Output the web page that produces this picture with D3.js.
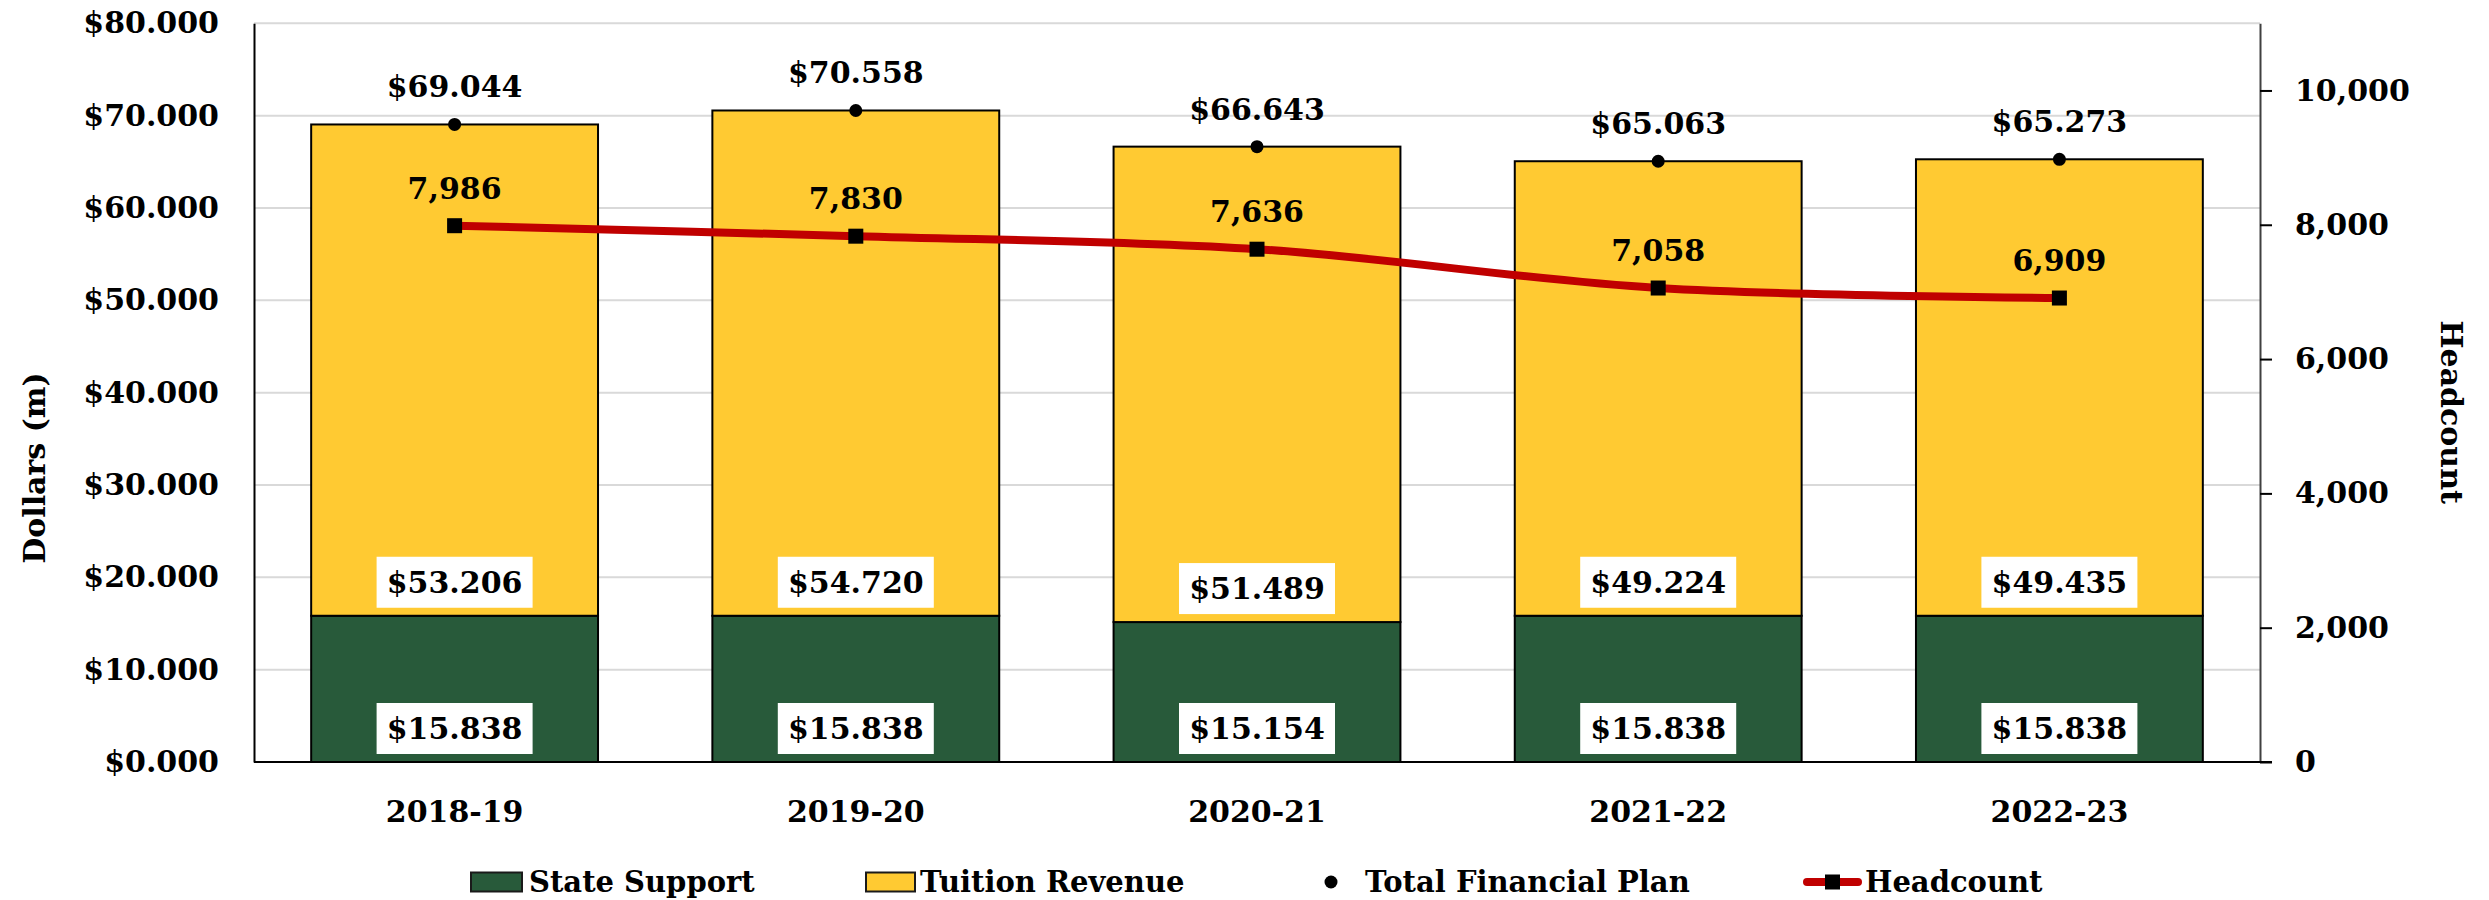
<!doctype html>
<html>
<head>
<meta charset="utf-8">
<script src="https://cdn.jsdelivr.net/npm/d3@7"></script>
<style>
  body { margin: 0; background: #fff; }
  text { font-family: "DejaVu Serif", serif; font-weight: bold; fill: #000; }
</style>
</head>
<body>
<div id="chart"></div>
<script>
// chart data
var years = ["2018-19", "2019-20", "2020-21", "2021-22", "2022-23"];
var stateSupport = [15.838, 15.838, 15.154, 15.838, 15.838];
var tuitionRevenue = [53.206, 54.720, 51.489, 49.224, 49.435];
var totalPlan = [69.044, 70.558, 66.643, 65.063, 65.273];
var headcount = [7986, 7830, 7636, 7058, 6909];
var dollarTicks = [0, 10, 20, 30, 40, 50, 60, 70, 80];
var headTicks = [0, 2000, 4000, 6000, 8000, 10000];
var legendNames = ["State Support", "Tuition Revenue", "Total Financial Plan", "Headcount"];

var W = 2489, H = 900;
var plotLeft = 254, plotRight = 2260, plotTop = 23.3, plotBase = 762;
var green = "#285A3A", yellow = "#FFCA32", red = "#C00000";

var svg = d3.select("#chart").append("svg")
  .attr("width", W).attr("height", H);

var x = d3.scaleBand().domain(years).range([plotLeft, plotRight])
  .paddingInner(0.285).paddingOuter(0.1425);
var yL = d3.scaleLinear().domain([0, 80]).range([plotBase, plotTop]);
var yR = d3.scaleLinear().domain([0, 11000]).range([plotBase, plotTop]);

// gridlines
svg.append("g").selectAll("line")
  .data(dollarTicks.filter(function(d){ return d > 0; }))
  .enter().append("line")
  .attr("x1", plotLeft).attr("x2", plotRight)
  .attr("y1", function(d){ return yL(d); })
  .attr("y2", function(d){ return yL(d); })
  .attr("stroke", "#D9D9D9").attr("stroke-width", 2);

// bars
var bars = svg.append("g");
years.forEach(function(yr, i){
  var s = stateSupport[i], t = tuitionRevenue[i];
  bars.append("rect")
    .attr("x", x(yr)).attr("width", x.bandwidth())
    .attr("y", yL(s)).attr("height", yL(0) - yL(s))
    .attr("fill", green).attr("stroke", "#000").attr("stroke-width", 2);
  bars.append("rect")
    .attr("x", x(yr)).attr("width", x.bandwidth())
    .attr("y", yL(s + t)).attr("height", yL(s) - yL(s + t))
    .attr("fill", yellow).attr("stroke", "#000").attr("stroke-width", 2);
});

// left axis
var axL = svg.append("g").attr("transform", "translate(" + plotLeft + ",0)")
  .call(d3.axisLeft(yL).tickValues(dollarTicks).tickSize(0).tickSizeOuter(0).tickPadding(35)
    .tickFormat(function(d){ return "$" + d3.format(".3f")(d); }));
axL.attr("font-family", null).attr("font-size", null);
axL.select(".domain").attr("stroke", "#000").attr("stroke-width", 2);
axL.selectAll("text").style("font-size", "30px");

// right axis
var axR = svg.append("g").attr("transform", "translate(" + plotRight + ",0)")
  .call(d3.axisRight(yR).tickValues(headTicks).tickSize(12).tickSizeOuter(0).tickPadding(23)
    .tickFormat(d3.format(",")));
axR.attr("font-family", null).attr("font-size", null);
axR.select(".domain").attr("stroke", "#404040").attr("stroke-width", 2);
axR.selectAll(".tick line").attr("stroke", "#000").attr("stroke-width", 2);
axR.selectAll("text").style("font-size", "30px");

// bottom axis
svg.append("line").attr("x1", plotLeft).attr("x2", plotRight + 12)
  .attr("y1", plotBase).attr("y2", plotBase).attr("stroke", "#000").attr("stroke-width", 2);
var axB = svg.append("g").attr("transform", "translate(0," + plotBase + ")")
  .call(d3.axisBottom(x).tickSize(0).tickPadding(39));
axB.attr("font-family", null).attr("font-size", null);
axB.select(".domain").remove();
axB.selectAll("text").style("font-size", "30px");

// base labels in white boxes
function boxLabel(cx, bottom, val){
  var g = svg.append("g");
  g.append("rect").attr("x", cx - 78).attr("y", bottom - 8 - 51)
    .attr("width", 156).attr("height", 51).attr("fill", "#fff");
  g.append("text").attr("x", cx).attr("y", bottom - 8 - 25.5)
    .attr("text-anchor", "middle").attr("dominant-baseline", "central")
    .style("font-size", "30px").text("$" + d3.format(".3f")(val));
}
years.forEach(function(yr, i){
  var cx = x(yr) + x.bandwidth() / 2;
  boxLabel(cx, yL(0), stateSupport[i]);
  boxLabel(cx, yL(stateSupport[i]), tuitionRevenue[i]);
});

// total financial plan dots + labels
var cxs = years.map(function(yr){ return x(yr) + x.bandwidth() / 2; });
svg.append("g").selectAll("circle").data(totalPlan).enter().append("circle")
  .attr("cx", function(d, i){ return cxs[i]; })
  .attr("cy", function(d){ return yL(d); })
  .attr("r", 6.5).attr("fill", "#000");
svg.append("g").selectAll("text").data(totalPlan).enter().append("text")
  .attr("x", function(d, i){ return cxs[i]; })
  .attr("y", function(d){ return yL(d) - 27; })
  .attr("text-anchor", "middle").style("font-size", "30px")
  .text(function(d){ return "$" + d3.format(".3f")(d); });

// headcount line
var line = d3.line()
  .x(function(d, i){ return cxs[i]; })
  .y(function(d){ return yR(d); })
  .curve(d3.curveCatmullRom.alpha(0.5));
svg.append("path").datum(headcount).attr("d", line)
  .attr("fill", "none").attr("stroke", red).attr("stroke-width", 8)
  .attr("stroke-linecap", "round");
svg.append("g").selectAll("rect").data(headcount).enter().append("rect")
  .attr("x", function(d, i){ return cxs[i] - 7.5; })
  .attr("y", function(d){ return yR(d) - 7.5; })
  .attr("width", 15).attr("height", 15).attr("fill", "#000");
svg.append("g").selectAll("text").data(headcount).enter().append("text")
  .attr("x", function(d, i){ return cxs[i]; })
  .attr("y", function(d){ return yR(d) - 27; })
  .attr("text-anchor", "middle").style("font-size", "30px")
  .text(function(d){ return d3.format(",")(d); });

// axis titles
svg.append("text").attr("transform", "translate(45,468) rotate(-90)")
  .attr("text-anchor", "middle").style("font-size", "30px").text("Dollars (m)");
svg.append("text").attr("transform", "translate(2441,412) rotate(90)")
  .attr("text-anchor", "middle").style("font-size", "30px").text("Headcount");

// legend
var ly = 882;
var lg = svg.append("g").style("font-size", "29px");
lg.append("rect").attr("x", 471).attr("y", ly - 9.5).attr("width", 51).attr("height", 19)
  .attr("fill", green).attr("stroke", "#1a1a1a").attr("stroke-width", 2);
lg.append("text").attr("x", 529).attr("y", ly).attr("dominant-baseline", "central").text(legendNames[0]);
lg.append("rect").attr("x", 866).attr("y", ly - 9.5).attr("width", 49).attr("height", 19)
  .attr("fill", yellow).attr("stroke", "#1a1a1a").attr("stroke-width", 2);
lg.append("text").attr("x", 920).attr("y", ly).attr("dominant-baseline", "central").text(legendNames[1]);
lg.append("circle").attr("cx", 1331).attr("cy", ly).attr("r", 6.5).attr("fill", "#000");
lg.append("text").attr("x", 1365).attr("y", ly).attr("dominant-baseline", "central").text(legendNames[2]);
lg.append("line").attr("x1", 1807).attr("x2", 1858).attr("y1", ly).attr("y2", ly)
  .attr("stroke", red).attr("stroke-width", 8).attr("stroke-linecap", "round");
lg.append("rect").attr("x", 1825).attr("y", ly - 7.5).attr("width", 15).attr("height", 15).attr("fill", "#000");
lg.append("text").attr("x", 1865).attr("y", ly).attr("dominant-baseline", "central").text(legendNames[3]);
</script>
</body>
</html>
